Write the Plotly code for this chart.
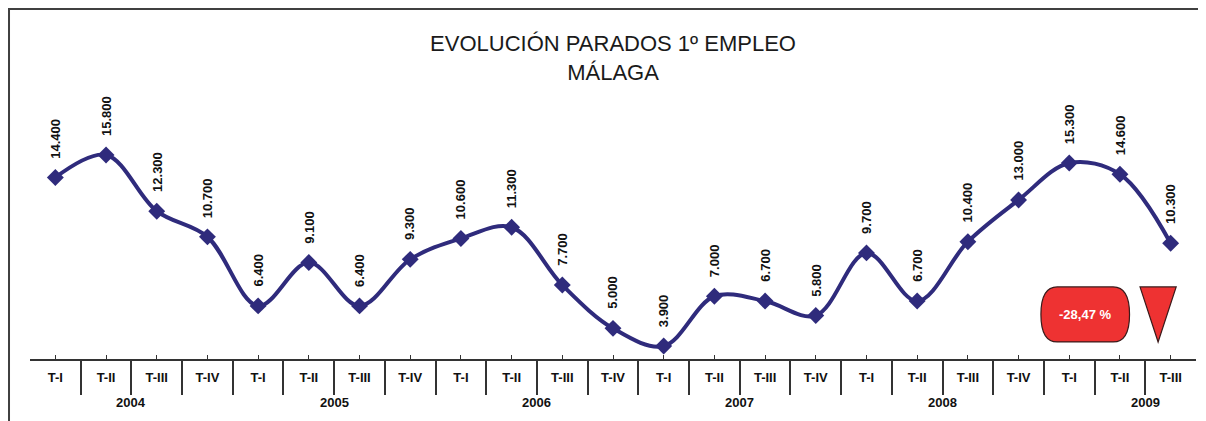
import plotly.graph_objects as go

quarters = ["T-I", "T-II", "T-III", "T-IV"] * 5 + ["T-I", "T-II", "T-III"]
years = ["2004", "2005", "2006", "2007", "2008", "2009"]
values = [14400, 15800, 12300, 10700, 6400, 9100, 6400, 9300, 10600, 11300, 7700, 5000,
          3900, 7000, 6700, 5800, 9700, 6700, 10400, 13000, 15300, 14600, 10300]
change_label = "-28,47 %"

NAVY = "#2F2B7C"
RED = "#EE3232"

x = list(range(len(values)))
labels = [f"{v:,}".replace(",", ".") for v in values]

fig = go.Figure()
fig.add_trace(go.Scatter(
    x=x, y=values, mode="lines+markers",
    line=dict(color=NAVY, width=4, shape="spline", smoothing=1.0),
    marker=dict(symbol="diamond", size=13, color=NAVY),
    hoverinfo="skip", showlegend=False,
))

annotations = []
for xi, v, t in zip(x, values, labels):
    annotations.append(dict(
        x=xi, y=v, xref="x", yref="y", text=f"<b>{t}</b>", showarrow=False,
        textangle=-90, yanchor="bottom", xanchor="center", yshift=17,
        font=dict(family="Liberation Sans, Arial", size=13, color="#111111"),
    ))

# year labels (centered on 4-quarter groups)
for i, yr in enumerate(years):
    annotations.append(dict(
        x=i * 4 + 1.5, y=-0.144, xref="x", yref="paper", text=f"<b>{yr}</b>",
        showarrow=False, xanchor="center", yanchor="middle",
        font=dict(family="Liberation Sans, Arial", size=13, color="#111111"),
    ))

# change badge text
annotations.append(dict(
    x=0.905, y=0.149, xref="paper", yref="paper", text=f"<b>{change_label}</b>",
    showarrow=False, xanchor="center", yanchor="middle",
    font=dict(family="Liberation Sans, Arial", size=13, color="white"),
))

# shapes: badge (rounded pill), down triangle, outer frame
bx0, bx1, by0, by1 = 0.867, 0.943, 0.057, 0.241
rx, ry = 0.014, 0.075
pill = (f"M {bx0+rx},{by1} L {bx1-rx},{by1} "
        f"C {bx1},{by1} {bx1},{by1-ry} {bx1},{(by0+by1)/2} "
        f"C {bx1},{by0+ry} {bx1},{by0} {bx1-rx},{by0} "
        f"L {bx0+rx},{by0} "
        f"C {bx0},{by0} {bx0},{by0+ry} {bx0},{(by0+by1)/2} "
        f"C {bx0},{by1-ry} {bx0},{by1} {bx0+rx},{by1} Z")
shapes = [
    dict(type="path", xref="paper", yref="paper", path=pill,
         fillcolor=RED, line=dict(color="#3A1A1A", width=1.2)),
    dict(type="path", xref="paper", yref="paper",
         path="M 0.952,0.241 L 0.983,0.241 L 0.9675,0.057 Z",
         fillcolor=RED, line=dict(color="#3A1A1A", width=1.2)),
    dict(type="rect", xref="paper", yref="paper", x0=-0.0180, x1=1.0034, y0=-0.30, y1=1.1706,
         line=dict(color="#404040", width=2), fillcolor="rgba(0,0,0,0)", layer="below"),
]

fig.update_layout(
    width=1206, height=421,
    margin=dict(l=22, r=18, t=52, b=70),
    paper_bgcolor="white", plot_bgcolor="white",
    title=dict(
        text="EVOLUCIÓN PARADOS 1º EMPLEO<br>MÁLAGA",
        x=0.5, xref="paper", xanchor="center",
        y=0.897, yref="container", yanchor="top",
        font=dict(family="Liberation Sans, Arial", size=22, color="#1A1A1A"),
    ),
    xaxis=dict(
        range=[-0.5, len(values) - 0.5],
        tickmode="array", tickvals=x, ticktext=[f"<b>{q}</b>" for q in quarters],
        ticks="inside", ticklen=4, tickcolor="#333333", tickwidth=1,
        tickfont=dict(family="Liberation Sans, Arial", size=13, color="#111111"),
        ticklabelstandoff=6,
        showline=True, linecolor="#333333", linewidth=1.5,
        showgrid=False, zeroline=False, fixedrange=True,
        minor=dict(tickmode="array", tickvals=[i - 0.5 for i in range(len(values) + 1)],
                   ticks="outside", ticklen=34, tickcolor="#333333", tickwidth=1.5,
                   showgrid=False),
    ),
    yaxis=dict(range=[3090, 21720], visible=False, showgrid=False, zeroline=False, fixedrange=True),
    annotations=annotations,
    shapes=shapes,
)

fig.write_html("out.html")
